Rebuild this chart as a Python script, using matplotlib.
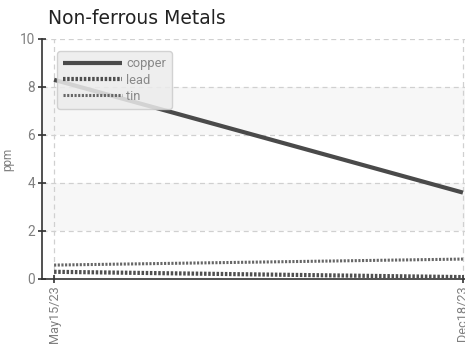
import matplotlib
matplotlib.use("Agg")
import matplotlib.pyplot as plt
from datetime import datetime, timedelta

# data
dates = [datetime(2023, 5, 15), datetime(2023, 12, 18)]
tick_labels = ["May15/23", "Dec18/23"]
copper = [8.3, 3.6]
lead = [0.30, 0.08]
tin = [0.58, 0.83]

narrow = "Roboto"

fig = plt.figure(figsize=(4.65, 3.44), dpi=100)
ax = fig.add_axes([42 / 465, 65 / 344, 423 / 465, 240 / 344])

# alternating bands
for lo in (2, 6):
    ax.axhspan(lo, lo + 2, color="#f7f7f7", zorder=0, lw=0)

ax.plot(dates, copper, color="#4a4a4a", lw=3.0, solid_capstyle="butt", label="copper", zorder=3)
ax.plot(dates, lead, color="#4f4f4f", lw=3.0, linestyle=(0, (0.6, 0.4)), label="lead", zorder=3)
ax.plot(dates, tin, color="#666666", lw=2.2, linestyle=(0, (0.7, 0.5)), label="tin", zorder=3)

ax.set_ylim(0, 10)
ax.set_yticks([0, 2, 4, 6, 8, 10])
ax.set_xlim(dates[0] - timedelta(days=6.4), dates[1] + timedelta(days=1.1))
ax.set_xticks(dates)
ax.set_xticklabels(tick_labels, rotation=90)

ax.grid(True, color="#d0d0d0", linestyle=(0, (4, 3)), lw=0.9)
ax.set_axisbelow(True)
for s in ("top", "right"):
    ax.spines[s].set_visible(False)
for s in ("left", "bottom"):
    ax.spines[s].set_color("#333333")
    ax.spines[s].set_linewidth(1.2)
ax.tick_params(direction="inout", length=6, width=1.2, color="#333333",
               labelcolor="#808080", labelsize=9.8, pad=2)
ax.tick_params(axis="x", labelsize=9.2, pad=1.5)
for lab in ax.get_xticklabels() + ax.get_yticklabels():
    lab.set_fontfamily(narrow)

ax.set_ylabel("ppm", color="#808080", fontsize=8.5, labelpad=4, fontfamily=narrow)
fig.text(48 / 465, 1 - 24 / 344, "Non-ferrous Metals", fontsize=13.5, color="#222222",
         ha="left", va="baseline")

leg = ax.legend(loc="upper left", bbox_to_anchor=(0.02, 0.975), handlelength=4.6,
                handletextpad=0.3, labelspacing=0.25, borderpad=0.45, fancybox=True,
                framealpha=0.85, facecolor="#ececec", edgecolor="#cccccc",
                prop={"family": narrow, "size": 9.3})
for t in leg.get_texts():
    t.set_color("#888888")

fig.savefig("out.png", dpi=100)
